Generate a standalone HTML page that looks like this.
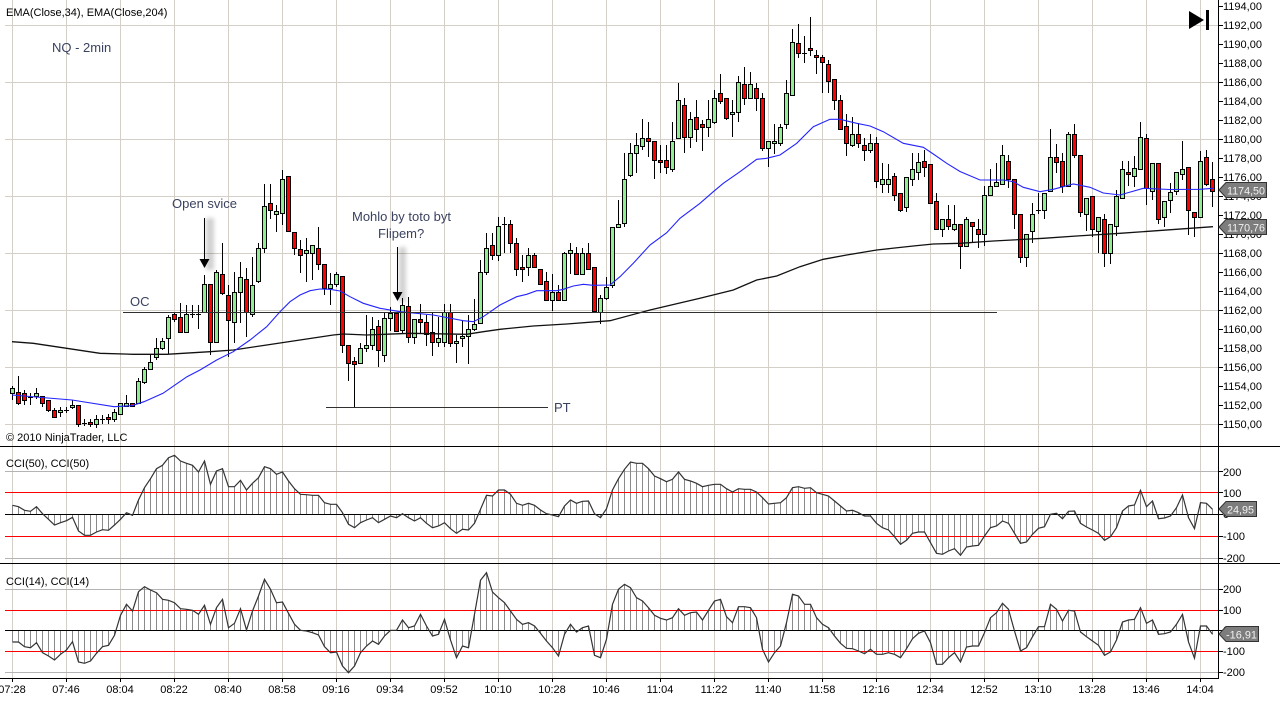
<!DOCTYPE html>
<html><head><meta charset="utf-8"><style>
html,body{margin:0;padding:0;background:#fff;}
svg{display:block;}
text{font-family:"Liberation Sans",Arial,sans-serif;}
</style></head><body>
<svg id="c" width="1280" height="702" viewBox="0 0 1280 702" xmlns="http://www.w3.org/2000/svg">
<defs>
<filter id="bl" x="-50%" y="-20%" width="200%" height="140%"><feGaussianBlur stdDeviation="2"/></filter>
</defs>
<rect x="0" y="0" width="1280" height="702" fill="#fff"/>
<g id="grid"></g>
<g id="cci"></g>
<g id="candles"></g>
<g id="lines"></g>
<line x1="0" y1="446.5" x2="1280" y2="446.5" stroke="#000" stroke-width="1"/>
<line x1="0" y1="563.5" x2="1280" y2="563.5" stroke="#000" stroke-width="1"/>
<line x1="0" y1="678.5" x2="1218" y2="678.5" stroke="#000" stroke-width="1"/>
<line x1="1218.5" y1="0" x2="1218.5" y2="679" stroke="#000" stroke-width="1"/>
<g id="ticks" stroke="#000" stroke-width="1"></g>

<g font-size="11" fill="#000">
<text x="1223" y="10">1194,00</text>
<text x="1223" y="29">1192,00</text>
<text x="1223" y="48">1190,00</text>
<text x="1223" y="67">1188,00</text>
<text x="1223" y="86">1186,00</text>
<text x="1223" y="105">1184,00</text>
<text x="1223" y="124">1182,00</text>
<text x="1223" y="143">1180,00</text>
<text x="1223" y="162">1178,00</text>
<text x="1223" y="181">1176,00</text>
<text x="1223" y="200">1174,00</text>
<text x="1223" y="219">1172,00</text>
<text x="1223" y="238">1170,00</text>
<text x="1223" y="257">1168,00</text>
<text x="1223" y="276">1166,00</text>
<text x="1223" y="295">1164,00</text>
<text x="1223" y="314">1162,00</text>
<text x="1223" y="333">1160,00</text>
<text x="1223" y="352">1158,00</text>
<text x="1223" y="371">1156,00</text>
<text x="1223" y="390">1154,00</text>
<text x="1223" y="409">1152,00</text>
<text x="1223" y="428">1150,00</text>
<text x="1223" y="476">200</text>
<text x="1223" y="497">100</text>
<text x="1223" y="518">0</text>
<text x="1223" y="540">-100</text>
<text x="1223" y="562">-200</text>
<text x="1223" y="593">200</text>
<text x="1223" y="614">100</text>
<text x="1223" y="634">0</text>
<text x="1223" y="655">-100</text>
<text x="1223" y="676">-200</text>
</g>

<g font-size="11" fill="#000" text-anchor="middle">
<text x="12" y="693">07:28</text>
<text x="66" y="693">07:46</text>
<text x="120" y="693">08:04</text>
<text x="174" y="693">08:22</text>
<text x="228" y="693">08:40</text>
<text x="282" y="693">08:58</text>
<text x="336" y="693">09:16</text>
<text x="390" y="693">09:34</text>
<text x="444" y="693">09:52</text>
<text x="498" y="693">10:10</text>
<text x="552" y="693">10:28</text>
<text x="606" y="693">10:46</text>
<text x="660" y="693">11:04</text>
<text x="714" y="693">11:22</text>
<text x="768" y="693">11:40</text>
<text x="822" y="693">11:58</text>
<text x="876" y="693">12:16</text>
<text x="930" y="693">12:34</text>
<text x="984" y="693">12:52</text>
<text x="1038" y="693">13:10</text>
<text x="1092" y="693">13:28</text>
<text x="1146" y="693">13:46</text>
<text x="1200" y="693">14:04</text>
</g>

<g font-size="11" fill="#000">
<text x="6" y="16">EMA(Close,34), EMA(Close,204)</text>
<text x="6" y="441">© 2010 NinjaTrader, LLC</text>
<text x="6" y="467">CCI(50), CCI(50)</text>
<text x="6" y="585">CCI(14), CCI(14)</text>
</g>
<text x="52" y="52" font-size="13" fill="#3b4260">NQ - 2min</text>

<polygon points="1189,11 1189,29 1204,20" fill="#000"/>
<rect x="1206" y="10" width="3" height="20" fill="#000"/>

<rect x="206" y="218" width="8" height="52" fill="#000" opacity="0.18" filter="url(#bl)"/>
<rect x="399" y="247" width="7" height="55" fill="#000" opacity="0.18" filter="url(#bl)"/>
<line x1="204.5" y1="218" x2="204.5" y2="260" stroke="#000" stroke-width="1"/>
<polygon points="199.5,259 209.5,259 204.5,268" fill="#000"/>
<line x1="397.5" y1="247" x2="397.5" y2="293" stroke="#000" stroke-width="1"/>
<polygon points="392.5,292 402.5,292 397.5,301" fill="#000"/>
<line x1="123" y1="312.5" x2="997" y2="312.5" stroke="#303030" stroke-width="1"/>
<line x1="326" y1="407.5" x2="548" y2="407.5" stroke="#303030" stroke-width="1"/>
<g font-size="13" fill="#3b4260">
<text x="172" y="208">Open svice</text>
<text x="352" y="221">Mohlo by toto byt</text>
<text x="378" y="238">Flipem?</text>
<text x="130" y="306">OC</text>
<text x="554" y="412">PT</text>
</g>

<g font-size="11">
<polygon points="1219,190 1226,182.5 1266.5,182.5 1266.5,197.5 1226,197.5" fill="#7d7d7d" stroke="#333" stroke-width="1"/>
<text x="1227" y="194.5" fill="#f2f2f2" textLength="38" lengthAdjust="spacingAndGlyphs">1174,50</text>
<polygon points="1219,227 1226,219.5 1266.5,219.5 1266.5,234.5 1226,234.5" fill="#7d7d7d" stroke="#333" stroke-width="1"/>
<text x="1227" y="231.5" fill="#f2f2f2" textLength="38" lengthAdjust="spacingAndGlyphs">1170,76</text>
<polygon points="1219,509 1226,501.5 1256.5,501.5 1256.5,516.5 1226,516.5" fill="#7d7d7d" stroke="#333" stroke-width="1"/>
<text x="1227" y="513.5" fill="#f2f2f2" textLength="27" lengthAdjust="spacingAndGlyphs">24,95</text>
<polygon points="1219,634 1226,626.5 1258.5,626.5 1258.5,641.5 1226,641.5" fill="#7d7d7d" stroke="#333" stroke-width="1"/>
<text x="1226" y="638.5" fill="#f2f2f2" textLength="31" lengthAdjust="spacingAndGlyphs">-16,91</text>
</g>
</svg>
<script>
(function(){
var NS="http://www.w3.org/2000/svg";
function el(parent,tag,attrs){var e=document.createElementNS(NS,tag);for(var k in attrs)e.setAttribute(k,attrs[k]);parent.appendChild(e);return e;}
var grid=document.getElementById('grid'),cci=document.getElementById('cci'),cg=document.getElementById('candles'),lg=document.getElementById('lines'),tk=document.getElementById('ticks');
for(var k=0;k<23;k++){var x=12+54*k+0.5;el(grid,'line',{x1:x,y1:0,x2:x,y2:678,stroke:'#d4d0c8','stroke-width':1});
 el(tk,'line',{x1:x,y1:678,x2:x,y2:682});}
[1192,1186,1180,1174,1168,1162,1156,1150].forEach(function(p){var y=Math.round(6+(1194-p)*9.51)+0.5;el(grid,'line',{x1:5,y1:y,x2:1218,y2:y,stroke:'#d4d0c8','stroke-width':1});});
for(var p=1194;p>=1150;p-=2){var y=Math.round(6+(1194-p)*9.51)+0.5;el(tk,'line',{x1:1218,y1:y,x2:1223,y2:y});}
function cciPanel(levels){
 el(grid,'line',{x1:5,y1:levels[0]+0.5,x2:1218,y2:levels[0]+0.5,stroke:'#b4b4b4','stroke-width':1});
 el(grid,'line',{x1:5,y1:levels[4]+0.5,x2:1218,y2:levels[4]+0.5,stroke:'#b4b4b4','stroke-width':1});
 levels.forEach(function(y){el(tk,'line',{x1:1218,y1:y+0.5,x2:1223,y2:y+0.5});});
}
cciPanel([471,492,514,536,558]);
cciPanel([589,610,630,651,672]);
var C=[
[388,393,386,400,'g'],[392,403,376,405,'r'],[393,400,390,405,'r'],[397,397,393,405,'d'],[393,396,388,399,'g'],
[396,403,396,407,'r'],[400,410,400,412,'r'],[410,417,408,418,'r'],[410,412,407,417,'g'],[410,410,407,413,'d'],
[405,407,400,409,'g'],[405,424,405,427,'r'],[423,423,419,426,'d'],[422,424,419,427,'r'],[419,424,415,428,'g'],
[419,419,415,424,'d'],[417,419,414,424,'r'],[412,419,409,422,'g'],[403,414,403,414,'g'],[403,406,395,407,'g'],
[403,406,403,407,'r'],[381,403,378,404,'g'],[369,382,367,384,'g'],[362,369,355,370,'g'],[348,357,338,360,'g'],
[341,348,338,350,'g'],[317,338,315,354,'g'],[314,319,312,322,'r'],[317,332,303,332,'r'],[314,332,305,332,'g'],
[314,314,305,318,'d'],[314,314,305,329,'d'],[284,312,275,312,'g'],[284,342,284,355,'r'],[272,342,270,343,'g'],
[274,293,243,295,'r'],[295,320,285,357,'r'],[292,322,272,343,'g'],[277,292,262,323,'g'],[279,312,268,337,'r'],
[285,314,257,317,'g'],[248,281,243,283,'g'],[206,248,184,253,'g'],[203,210,184,219,'r'],[211,214,205,232,'g'],
[179,213,170,225,'g'],[176,231,176,231,'r'],[232,248,232,255,'r'],[249,255,240,273,'r'],[250,253,238,282,'g'],
[245,253,245,280,'g'],[248,264,227,270,'r'],[264,288,264,295,'r'],[284,288,273,305,'g'],[274,284,272,287,'g'],
[276,345,276,353,'r'],[345,363,345,381,'r'],[361,364,357,407,'r'],[348,363,343,363,'g'],[345,348,315,352,'g'],
[329,345,317,350,'g'],[326,350,320,367,'r'],[318,355,313,362,'g'],[313,318,307,331,'g'],[313,331,313,331,'r'],
[305,330,298,333,'g'],[306,337,297,343,'r'],[319,337,319,344,'g'],[319,322,304,333,'r'],[322,334,315,346,'r'],
[332,342,313,356,'r'],[338,342,317,347,'g'],[312,342,304,347,'g'],[312,343,304,347,'r'],[341,343,335,363,'g'],
[336,338,320,347,'g'],[329,336,315,364,'g'],[324,329,299,331,'g'],[272,323,260,323,'g'],[248,272,233,275,'g'],
[245,255,233,260,'r'],[226,255,217,261,'g'],[224,224,217,253,'d'],[224,243,220,253,'r'],[243,269,238,276,'r'],
[267,269,255,282,'r'],[255,267,248,276,'g'],[255,267,253,268,'r'],[269,284,269,285,'r'],[281,300,272,300,'r'],
[292,300,274,311,'g'],[292,300,285,300,'r'],[253,300,252,300,'g'],[250,253,243,274,'g'],[253,274,247,275,'r'],
[253,274,248,275,'g'],[253,269,243,270,'r'],[267,311,267,312,'r'],[298,312,295,324,'g'],[287,298,277,300,'g'],
[227,285,227,288,'g'],[224,227,200,227,'g'],[179,223,153,227,'g'],[153,175,143,177,'g'],[145,153,133,173,'g'],
[138,146,119,150,'g'],[138,141,122,157,'r'],[141,160,141,179,'r'],[160,162,145,173,'r'],[160,167,145,174,'r'],
[141,169,122,172,'g'],[100,138,83,138,'g'],[105,137,98,153,'r'],[119,137,112,148,'g'],[117,129,100,142,'r'],
[124,127,120,151,'r'],[119,127,100,137,'g'],[98,122,90,124,'g'],[93,101,74,104,'r'],[98,118,98,120,'r'],
[112,114,100,137,'g'],[82,112,76,122,'g'],[84,98,67,105,'r'],[84,98,72,98,'g'],[88,98,83,111,'r'],
[98,148,93,151,'r'],[141,148,141,167,'g'],[141,143,124,154,'g'],[127,143,124,146,'g'],[93,124,80,129,'g'],
[42,95,29,95,'g'],[43,53,24,58,'r'],[53,53,36,63,'d'],[48,50,17,56,'r'],[55,57,50,74,'r'],
[57,62,55,93,'r'],[64,81,60,93,'r'],[79,100,79,110,'r'],[100,129,95,129,'r'],[126,143,114,156,'r'],
[134,145,117,147,'g'],[134,143,123,148,'r'],[145,150,138,161,'r'],[143,150,134,153,'g'],[143,181,137,188,'r'],
[179,184,163,193,'g'],[179,184,164,193,'g'],[176,195,173,201,'r'],[193,210,193,212,'r'],[177,207,177,212,'g'],
[169,179,153,186,'g'],[162,172,153,180,'g'],[161,167,150,177,'r'],[164,203,164,203,'r'],[201,229,193,229,'r'],
[219,229,219,237,'g'],[219,226,205,230,'r'],[224,229,205,231,'g'],[224,246,224,269,'r'],[219,246,217,246,'g'],
[222,226,222,242,'r'],[229,234,219,248,'r'],[195,234,186,246,'g'],[186,195,169,195,'g'],[182,186,163,187,'g'],
[155,184,145,184,'g'],[161,179,155,188,'r'],[179,214,179,229,'r'],[214,257,214,263,'r'],[234,257,234,267,'g'],
[214,231,203,243,'g'],[210,210,193,214,'d'],[193,210,193,219,'g'],[157,191,129,191,'g'],[157,162,144,173,'r'],
[161,186,153,193,'r'],[134,186,132,186,'g'],[134,155,124,158,'r'],[155,212,155,217,'r'],[198,214,198,231,'g'],
[196,229,196,237,'r'],[217,231,217,253,'g'],[219,253,214,267,'r'],[224,253,224,264,'g'],[196,226,190,236,'g'],
[169,198,161,198,'g'],[172,174,161,186,'r'],[168,176,156,187,'g'],[137,169,122,169,'g'],[138,188,134,205,'r'],
[163,191,163,200,'g'],[163,219,163,224,'r'],[201,217,201,227,'g'],[192,200,183,213,'g'],[172,191,172,195,'g'],
[169,174,141,180,'g'],[167,210,167,235,'r'],[212,217,212,237,'r'],[161,217,151,218,'g'],[157,184,150,186,'r'],
[179,191,162,207,'r']];
C.forEach(function(c,i){
 var cx=12+6*i;
 el(cg,'line',{x1:cx+0.5,y1:c[2],x2:cx+0.5,y2:c[3],stroke:'#000','stroke-width':1});
 if(c[4]==='d'||c[1]-c[0]<1){
  el(cg,'line',{x1:cx-2,y1:c[0]+0.5,x2:cx+3,y2:c[0]+0.5,stroke:'#000','stroke-width':1});
 } else {
  el(cg,'rect',{x:cx-1.5,y:c[0]+0.5,width:4,height:c[1]-c[0],fill:(c[4]==='g'?'#90ee90':'#ff0000'),stroke:'#000','stroke-width':1});
 }
});
var blue=[[12,395],[72,400],[114,406.7],[132,405.7],[144,401.7],[163,393.3],[187,376.7],[200,370],[216.7,360],[233.3,351.7],[250,340],[266.7,326.7],[280,311.7],[290,301.7],[300,295],[310,290.7],[320,289],[330,289.3],[340,291],[350,296.7],[363.3,303.3],[380,308.3],[400,311.7],[433.3,315],[463.3,320.7],[473.3,321.7],[483.3,316.7],[500,305],[516.7,296.7],[526.7,294.3],[536.7,290.7],[556.7,290.7],[563.3,289.3],[573.3,286],[583.3,284.3],[593.3,285.3],[610,285],[620,276.7],[633.3,263.3],[650,245],[666.7,232.7],[680,218.3],[700,203.3],[713.3,191.7],[723.3,183.3],[740,171.7],[756.7,159.3],[766.7,158.3],[780,155],[796.7,143.3],[813.3,126.7],[830,119.3],[840,119.3],[856.7,123.3],[870,126],[883.3,131.7],[903.3,143.3],[923.3,147.3],[933.3,154],[946.7,163.3],[960,171.5],[980,180],[1003.3,180],[1013.3,181.7],[1023.3,187.3],[1040,191.7],[1053.3,189.3],[1073.3,184],[1090,187.3],[1103.3,193],[1120,195],[1143.3,188.3],[1170,189.5],[1200,189.3],[1213,188.3]];
var black=[[12,341.7],[33.3,343.3],[66.7,348.3],[100,353.3],[133.3,354.3],[166.7,354.3],[210,351.7],[233.3,350],[266.7,345],[300,340],[333.3,335],[343.3,334],[366.7,335],[410,333.3],[466.7,334.3],[483.3,331.7],[500,329.3],[533.3,326],[566.7,324],[610,320.7],[650,310],[700,298.3],[733.3,290],[756.7,280],[776.7,276],[800,266.7],[823.3,259.3],[846.7,255],[876.7,250],[913.3,246],[933.3,244],[960,243.3],[993.3,241],[1043.3,238.3],[1076.7,236],[1120,233.3],[1213,226.7]];
function pts(a){return a.map(function(p){return p[0]+','+p[1];}).join(' ');}
el(lg,'polyline',{points:pts(black),fill:'none',stroke:'#111','stroke-width':1.3});
el(lg,'polyline',{points:pts(blue),fill:'none',stroke:'#2424ff','stroke-width':1.1});
var c50a=[178,182,193,196,182,203,220,237,230,224,214,255,268,268,258,251,253,237,220,200,208,162,125,98,68,58,35,28,45,52,58,78,45,115,75,68,122,122,103,132,112,95,62,68,85,78,105,128,145,146,148,148,170,175,175,200,235,245,230,222,215,230,220,210,215,203];
var c50b=[215,225,215,232,245,240,230,248,262,250,252,232,190,148,150,132,132,145,172,178,172,178,192,203,207,212,180,162,172,166,165,203,215,188,132,98,70,48,52,52,68,90,98,107,100,78,100,105,112,122,118,115,115,128,138,128,130,130,138,155,174,172,170,155,125,122,127];
var c50c=[125,140,145,150,165,180,195,193,200,210,210,232,245,252,272,295,283,262,258,258,290,322,325,315,308,328,303,300,298,270,245,240,225,232,262,292,288,265,247,242,205,202,218,196,195,232,243,252,262,283,272,245,195,180,177,133,182,165,218,216,210,185,147,215,248,170,172,190];
var c14a=[588,588,602,605,590,620,630,642,625,612,587,648,652,645,622,602,598,568,508,475,495,437,422,432,440,460,463,470,488,490,493,505,478,535,485,460,545,532,488,552,495,450,400,430,470,468,502,535,553,555,560,567,602,620,618,660,680,660,620,600,585,595,570,553,553,522];
var c14b=[545,540,505,540,570,565,520,582,635,600,605,505,403,380,438,455,470,495,520,535,530,540,562,585,605,630,565,535,558,545,540,628,635,580,475,430,415,425,455,465,485,508,517,522,515,488,508,500,498,522,493,465,460,512,530,482,482,485,515,610,648,620,600,530,445,450,475];
var c14c=[475,515,535,545,570,592,607,608,615,623,610,625,625,620,625,635,608,578,562,555,590,655,655,635,620,648,603,600,600,560,515,500,472,490,555,615,605,572,542,542,475,490,525,493,495,558,572,585,598,628,618,582,528,522,520,485,532,522,565,563,558,535,505,588,637,540,540,565];
function drawCCI(z,zeroY){
 var p=[];
 z.forEach(function(v,i){var x=12+6*i+0.5;var y=446+v/3;
  el(cci,'line',{x1:x,y1:zeroY,x2:x,y2:y,stroke:'#8a8a8a','stroke-width':1});
  p.push([x,y.toFixed(1)]);});
 return p;
}
var z50=c50a.concat(c50b,c50c), z14=c14a.concat(c14b,c14c);
var p50=drawCCI(z50,514.5), p14=drawCCI(z14,630.5);
[[492.5,'#ff0000'],[536.5,'#ff0000'],[514.5,'#000'],[610.5,'#ff0000'],[651.5,'#ff0000'],[630.5,'#000']].forEach(function(r){
 el(cci,'line',{x1:5,y1:r[0],x2:1218,y2:r[0],stroke:r[1],'stroke-width':1});});
el(cci,'polyline',{points:pts(p50),fill:'none',stroke:'#333','stroke-width':1.2});
el(cci,'polyline',{points:pts(p14),fill:'none',stroke:'#333','stroke-width':1.2});
})();
</script>
</body></html>
